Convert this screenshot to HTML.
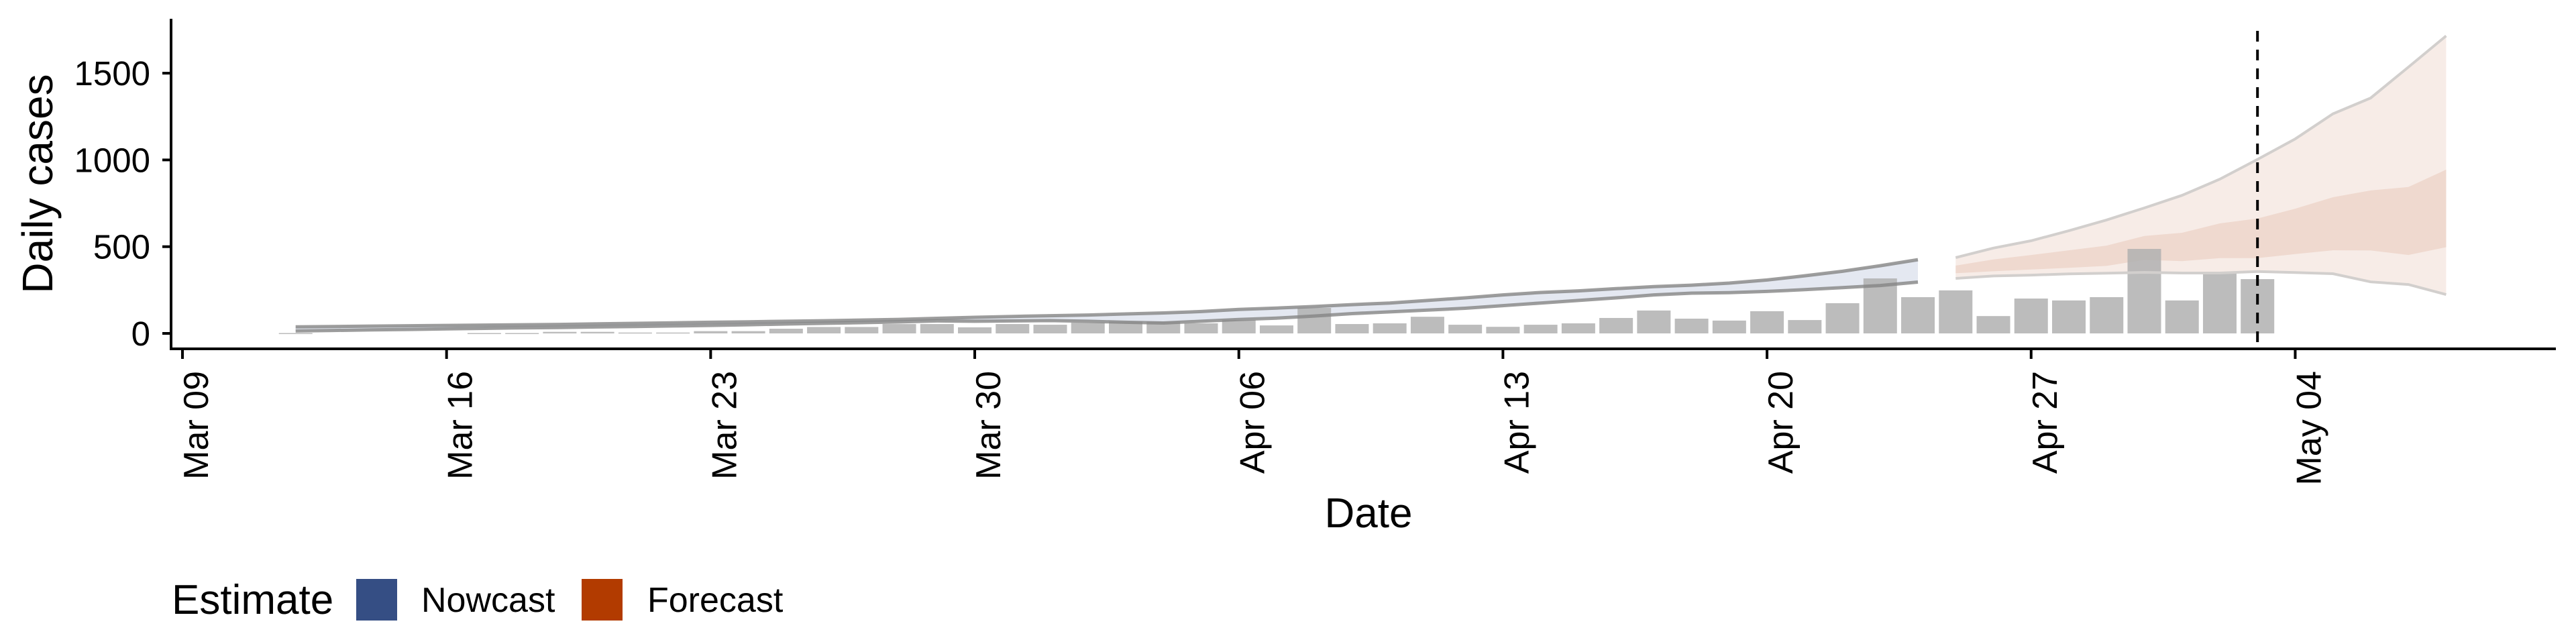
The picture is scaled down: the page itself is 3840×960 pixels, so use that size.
<!DOCTYPE html>
<html><head><meta charset="utf-8">
<style>
html,body{margin:0;padding:0;background:#fff;}
svg{display:block;font-family:"Liberation Sans",Arial,sans-serif;}
</style></head>
<body>
<svg id="chart" width="3840" height="960" viewBox="0 0 3840 960" xmlns="http://www.w3.org/2000/svg">
<g id="plot"></g>
</svg>
<script>
// ---- data (day offsets from Mar 09) ----
const barDays = [3,8,9,10,11,12,13,14,15,16,17,18,19,20,21,22,23,24,25,26,27,28,29,30,31,32,33,34,35,36,37,38,39,40,41,42,43,44,45,46,47,48,49,50,51,52,53,54,55];
const barValues = [2,2,2,9,9,5,5,13,13,27,37,37,54,54,35,54,50,62,68,68,58,78,46,147,54,58,96,50,38,50,58,89,132,85,74,128,77,174,317,209,248,100,201,190,209,487,190,348,313];

const nowDays = [3,4,5,6,7,8,9,10,11,12,13,14,15,16,17,18,19,20,21,22,23,24,25,26,27,28,29,30,31,32,33,34,35,36,37,38,39,40,41,42,43,44,45,46];
const nowUpper = [38,40,42,44,46,48,50,52,55,58,61,64,67,70,73,77,81,87,93,98,102,106,112,118,126,138,146,155,166,175,190,205,222,236,245,258,270,278,290,308,332,358,390,425];
const nowLower = [14,17,20,23,26,29,32,34,37,40,43,46,50,54,58,62,66,72,70,72,74,70,64,60,70,80,88,100,114,124,134,145,160,175,190,205,222,232,235,242,252,264,276,296];

const fcDays = [47,48,49,50,51,52,53,54,55,56,57,58,59,60];
const fcUpper90 = [437,492,534,592,654,723,796,889,1003,1121,1266,1357,1535,1715];
const fcLower90 = [317,331,336,343,347,352,348,348,357,351,344,297,282,224];
const fcUpper50 = [391,426,452,479,506,562,580,634,662,719,785,824,844,944];
const fcLower50 = [347,358,368,378,389,424,417,434,434,457,479,478,452,497];

const yTicks = [0,500,1000,1500];
const xTickDays = [0,7,14,21,28,35,42,49,56];
const xTickLabels = ["Mar 09","Mar 16","Mar 23","Mar 30","Apr 06","Apr 13","Apr 20","Apr 27","May 04"];
const forecastDate = 55;

// ---- scales ----
const X0 = 272, PX_DAY = 56.24;
const Y0 = 497, PX_UNIT = 129.3/500;
function xs(d){ return X0 + d*PX_DAY; }
function ys(v){ return Y0 - v*PX_UNIT; }

const NS = "http://www.w3.org/2000/svg";
const svg = document.getElementById('chart');
const plot = document.getElementById('plot');
function mk(tag, attrs, parent){
  const e = document.createElementNS(NS, tag);
  for (const k in attrs) e.setAttribute(k, attrs[k]);
  (parent||svg).appendChild(e);
  return e;
}

function bandPath(days, up, lo){
  let p = '';
  days.forEach((d,i)=>{ p += (i?'L':'M') + xs(d).toFixed(1) + ',' + ys(up[i]).toFixed(1); });
  for (let i=days.length-1;i>=0;i--) p += 'L' + xs(days[i]).toFixed(1) + ',' + ys(lo[i]).toFixed(1);
  return p + 'Z';
}
function linePath(days, vals){
  let p='';
  days.forEach((d,i)=>{ p += (i?'L':'M') + xs(d).toFixed(1) + ',' + ys(vals[i]).toFixed(1); });
  return p;
}

// nowcast band
const nb = mk('path',{d:bandPath(nowDays,nowUpper,nowLower),fill:'#dfe4ee','fill-opacity':'0.85'},plot);



// forecast bands
const fo = mk('path',{d:bandPath(fcDays,fcUpper90,fcLower90),fill:'#f7ece7'},plot);


const fi = mk('path',{d:bandPath(fcDays,fcUpper50,fcLower50),fill:'#efd9cf'},plot);



// bars (drawn over bands, semi-transparent)
barDays.forEach((d,i)=>{
  const v = barValues[i];
  const r = mk('rect',{x:xs(d)-25,y:ys(v),width:50,height:Math.max(v*PX_UNIT,1.5),fill:'#b0b0b0','fill-opacity':'0.85'},plot);
  
  
});

const nu = mk('path',{d:linePath(nowDays,nowUpper),fill:'none',stroke:'#858585','stroke-width':5,'stroke-opacity':'0.8'},plot);


const nl = mk('path',{d:linePath(nowDays,nowLower),fill:'none',stroke:'#858585','stroke-width':5,'stroke-opacity':'0.8'},plot);


const fu = mk('path',{d:linePath(fcDays,fcUpper90),fill:'none',stroke:'#d2cfcd','stroke-width':4},plot);


const fl = mk('path',{d:linePath(fcDays,fcLower90),fill:'none',stroke:'#d2cfcd','stroke-width':4},plot);



// dashed forecast line
const dl = mk('line',{x1:xs(forecastDate),x2:xs(forecastDate),y1:46,y2:520,stroke:'#000','stroke-width':4,'stroke-dasharray':'16,12'});



// axes
const ya = mk('line',{x1:255,x2:255,y1:28,y2:522,stroke:'#000','stroke-width':4});


const xa = mk('line',{x1:253,x2:3810,y1:520,y2:520,stroke:'#000','stroke-width':4});



yTicks.forEach(v=>{
  const t = mk('line',{x1:242,x2:255,y1:ys(v),y2:ys(v),stroke:'#000','stroke-width':4});
  
  
  const l = mk('text',{x:224,y:ys(v)+18,'text-anchor':'end','font-size':51,fill:'#000'});
  l.textContent = v;
  
  
});
xTickDays.forEach((d,i)=>{
  const x = xs(d);
  const t = mk('line',{x1:x,x2:x,y1:522,y2:535,stroke:'#000','stroke-width':4});
  
  
  const l = mk('text',{x:0,y:0,'text-anchor':'end','font-size':52,fill:'#000',transform:'translate('+(x+38)+',553) rotate(-90)'});
  l.textContent = xTickLabels[i];
  
  
});

const yt = mk('text',{x:0,y:0,'text-anchor':'middle','font-size':64,fill:'#000',transform:'translate(78,274) rotate(-90)'});
yt.textContent = 'Daily cases';


const xt = mk('text',{x:2040,y:786,'text-anchor':'middle','font-size':62,fill:'#000'});
xt.textContent = 'Date';



// legend
const lg = mk('g',{});


const lt = mk('text',{x:256,y:915,'font-size':62,fill:'#000'},lg);
lt.textContent = 'Estimate';


const k1 = mk('rect',{x:531,y:863,width:61,height:62,fill:'#354e84'},lg);


const t1 = mk('text',{x:628,y:912,'font-size':52,fill:'#000'},lg);
t1.textContent = 'Nowcast';


const k2 = mk('rect',{x:867,y:863,width:61,height:62,fill:'#b23b00'},lg);


const t2 = mk('text',{x:965,y:912,'font-size':52,fill:'#000'},lg);
t2.textContent = 'Forecast';


</script>
</body></html>
